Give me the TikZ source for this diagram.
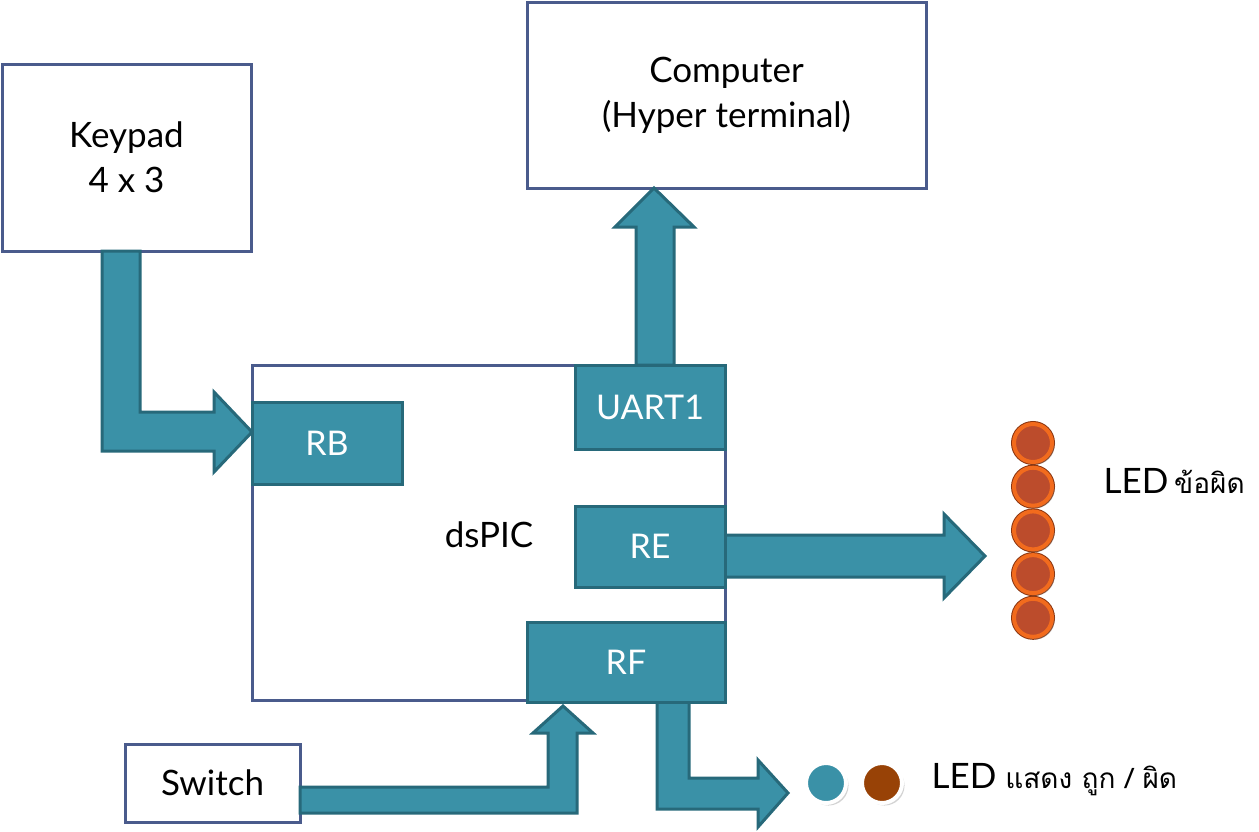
\documentclass[tikz,border=0pt]{standalone}
\usepackage{fontspec}
\setmainfont{Lato}
\newfontfamily\thaifont[Script=Thai]{Loma}
\usetikzlibrary{arrows,shadows}
\definecolor{frame}{HTML}{4A5B8C}
\definecolor{teal1}{HTML}{3A91A7}
\definecolor{teal2}{HTML}{27697A}
\definecolor{ledin}{HTML}{BC4C2C}
\definecolor{ledring}{HTML}{F26B1D}
\definecolor{lededge}{HTML}{8A3510}
\definecolor{ledbrown}{HTML}{984206}
\begin{document}
\begin{tikzpicture}[x=1pt,y=-1pt]

\tikzstyle{bx} = [rectangle, draw=frame, line width=3pt, fill=white, align=center, font=\fontsize{35}{45}\selectfont]
\tikzstyle{port} = [rectangle, draw=teal2, line width=3pt, fill=teal1, text=white, font=\fontsize{34}{40}\selectfont]
\tikzstyle{blk} = [draw=teal2, line width=3pt, fill=teal1, line join=miter]
\tikzstyle{led} = [circle, minimum size=38pt, inner sep=0pt, preaction={draw=lededge, line width=6pt}, draw=ledring, line width=4pt, fill=ledin, drop shadow={opacity=0.3}]
\tikzstyle{dot} = [circle, minimum size=40pt, inner sep=0pt, draw=white, line width=4pt, drop shadow={opacity=0.35}]

\useasboundingbox (0,0) rectangle (1259,831);

\node (keypad) [bx, minimum width=249pt, minimum height=187pt] at (126.5,157.5) {Keypad\\4 x 3};
\node (computer) [bx, minimum width=399pt, minimum height=186pt] at (726.5,95) {Computer\\(Hyper terminal)};
\node (switch) [bx, minimum width=175pt, minimum height=78pt] at (212.5,783) {Switch};
\node (dspic) [rectangle, draw=frame, line width=3pt, minimum width=473pt, minimum height=335pt] at (488.5,532.5) {};
\node (dspiclbl) [font=\fontsize{35}{40}\selectfont] at (489,535) {dsPIC};

% block arrows
\draw[blk] (102,251) -- (102,451) -- (214,451) -- (214,472) -- (252,432) -- (214,392) -- (214,412) -- (140,412) -- (140,251) -- cycle;
\draw[blk] (636,365) -- (636,227) -- (615,227) -- (654,188) -- (694,227) -- (674,227) -- (674,365) -- cycle;
\draw[blk] (720,535) -- (944,535) -- (944,514) -- (985,556) -- (944,598) -- (944,577) -- (720,577) -- cycle;
\draw[blk] (300,787) -- (548,787) -- (548,733) -- (533,733) -- (563,706) -- (593,733) -- (577,733) -- (577,813) -- (300,813) -- cycle;
\draw[blk] (657,700) -- (657,809) -- (758,809) -- (758,827) -- (788,793) -- (758,760) -- (758,778) -- (689,778) -- (689,700) -- cycle;

\node (rb) [port, minimum width=150pt, minimum height=82pt] at (327,443) {RB};
\node (uart) [port, minimum width=150pt, minimum height=84pt] at (650,407) {UART1};
\node (re) [port, minimum width=150pt, minimum height=81pt] at (650,546.5) {RE};
\node (rf) [port, minimum width=198pt, minimum height=80pt] at (626,662) {RF};

% LED
\foreach \i in {0,...,4}
  \node (led\i) [led] at (1033,443+43.7*\i) {};
\node (ledtxt) [anchor=west, font=\fontsize{35}{40}\selectfont] at (1100,481) {LED\,{\thaifont\fontsize{28}{34}\selectfont ข้อผิด}};

\node (okled) [dot, fill=teal1] at (826,783) {};
\node (errled) [dot, fill=ledbrown] at (882,783) {};
\node (oktxt) [anchor=west, font=\fontsize{35}{40}\selectfont] at (928,780) {LED {\thaifont\fontsize{28}{34}\selectfont แสดง ถูก / ผิด}};

\end{tikzpicture}
\end{document}
